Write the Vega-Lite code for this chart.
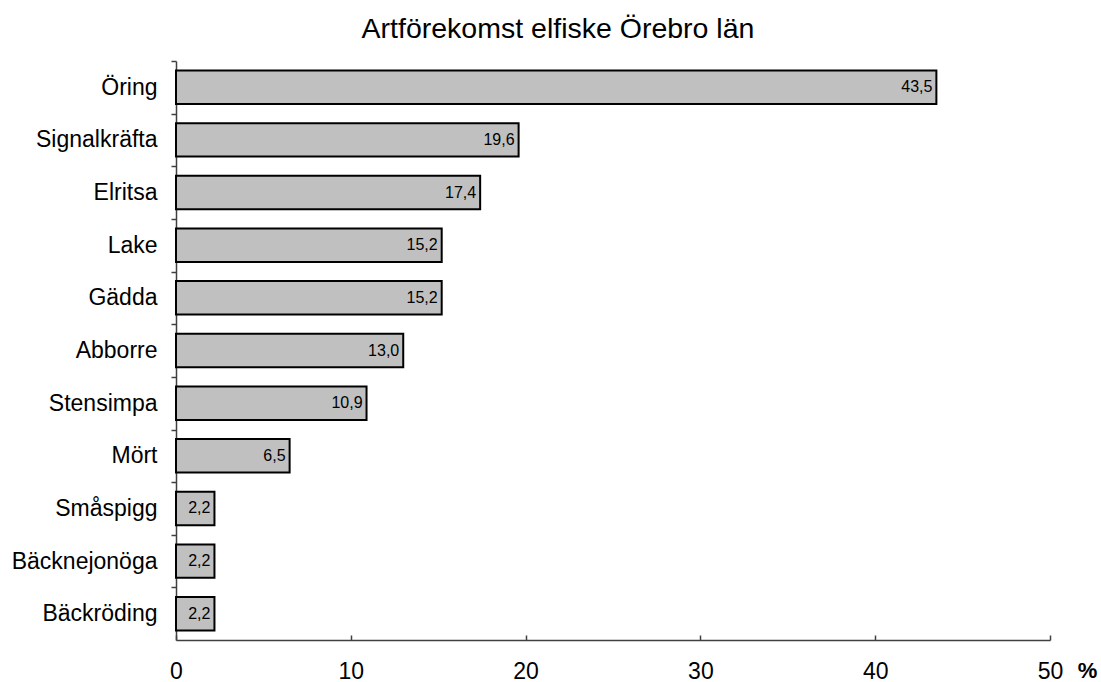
{
  "$schema": "https://vega.github.io/schema/vega-lite/v6.json",
  "width": 874,
  "height": 579,
  "autosize": {"type": "none"},
  "padding": {"left": 176, "top": 61, "right": 51, "bottom": 42},
  "background": "white",
  "config": {
    "font": "Liberation Sans",
    "view": {"stroke": null},
    "locale": {"number": {"decimal": ",", "thousands": " ", "grouping": [3], "currency": ["", " kr"]}}
  },
  "title": {
    "text": "Artförekomst elfiske Örebro län",
    "fontSize": 28.5,
    "fontWeight": "normal",
    "color": "black",
    "font": "Liberation Sans",
    "dx": -55,
    "offset": 17
  },
  "data": {
    "values": [
      {"art": "Öring", "andel": 43.5},
      {"art": "Signalkräfta", "andel": 19.6},
      {"art": "Elritsa", "andel": 17.4},
      {"art": "Lake", "andel": 15.2},
      {"art": "Gädda", "andel": 15.2},
      {"art": "Abborre", "andel": 13.0},
      {"art": "Stensimpa", "andel": 10.9},
      {"art": "Mört", "andel": 6.5},
      {"art": "Småspigg", "andel": 2.2},
      {"art": "Bäcknejonöga", "andel": 2.2},
      {"art": "Bäckröding", "andel": 2.2}
    ]
  },
  "encoding": {
    "y": {
      "field": "art",
      "type": "nominal",
      "sort": ["Öring", "Signalkräfta", "Elritsa", "Lake", "Gädda", "Abborre", "Stensimpa", "Mört", "Småspigg", "Bäcknejonöga", "Bäckröding"],
      "scale": {"paddingInner": 0.365, "paddingOuter": 0.18},
      "axis": {
        "title": null,
        "labelFontSize": 23,
        "labelColor": "black",
        "labelPadding": 14,
        "labelOffset": 9.6,
        "bandPosition": 0,
        "tickOffset": -9.6,
        "tickSize": 5,
        "tickColor": "#404040",
        "tickWidth": 1.5,
        "domainColor": "#404040",
        "domainWidth": 1.5,
        "grid": false
      }
    },
    "x": {
      "field": "andel",
      "type": "quantitative",
      "scale": {"domain": [0, 50], "nice": false},
      "axis": {
        "values": [0, 10, 20, 30, 40, 50],
        "title": "%",
        "titleFontSize": 22,
        "titleFontWeight": "bold",
        "titleColor": "black",
        "titleX": 911,
        "titleY": 37,
        "titleAlign": "center",
        "titleBaseline": "alphabetic",
        "labelFontSize": 23,
        "labelColor": "black",
        "labelPadding": 25,
        "labelFlush": false,
        "tickSize": -5,
        "tickColor": "#404040",
        "tickWidth": 1.5,
        "domainColor": "#404040",
        "domainWidth": 1.5,
        "grid": false
      }
    }
  },
  "layer": [
    {
      "mark": {"type": "bar", "fill": "#c0c0c0", "stroke": "black", "strokeWidth": 2}
    },
    {
      "mark": {"type": "text", "align": "right", "baseline": "middle", "dx": -4, "fontSize": 16, "color": "black"},
      "encoding": {
        "text": {"field": "andel", "type": "quantitative", "format": ".1f"}
      }
    }
  ]
}
